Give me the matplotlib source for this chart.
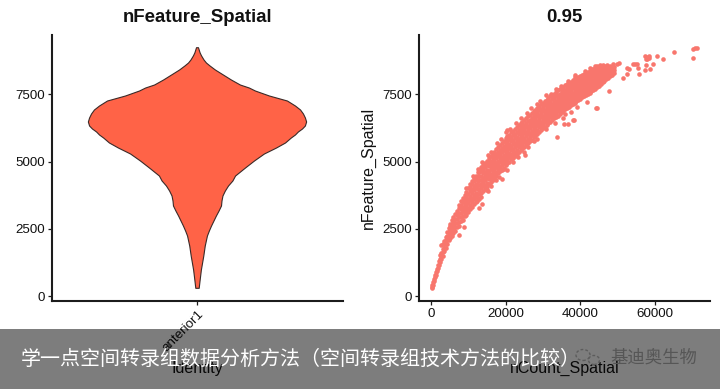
import matplotlib
matplotlib.use("Agg")
import matplotlib.pyplot as plt
from matplotlib.patches import Ellipse, Rectangle

W, H = 720, 389

plt.rcParams["font.family"] = ["Liberation Sans", "DejaVu Sans"]

# Violin outline: value and half width (x units)
violin_y = [9237, 9151, 9039, 8928, 8779, 8667, 8556, 8407, 8221, 8035, 7849, 7737, 7626, 7440,
            7254, 7068, 6919, 6770, 6622, 6473, 6324, 6212, 6101, 5990, 5878, 5692, 5506, 5283,
            5022, 4762, 4464, 4278, 4092, 3906, 3720, 3534, 3348, 3162, 2976, 2790, 2604, 2418,
            2232, 1860, 1488, 967, 595, 286]
violin_w = [0.004, 0.007, 0.011, 0.017, 0.027, 0.037, 0.052, 0.074, 0.107, 0.140, 0.177, 0.214,
            0.239, 0.297, 0.371, 0.404, 0.425, 0.437, 0.445, 0.450, 0.445, 0.433, 0.416, 0.404,
            0.387, 0.363, 0.326, 0.276, 0.235, 0.198, 0.157, 0.146, 0.128, 0.115, 0.105, 0.101,
            0.099, 0.089, 0.078, 0.068, 0.058, 0.049, 0.041, 0.032, 0.026, 0.016, 0.011, 0.007]

# Scatter: dense band read as columns of nCount with the nFeature values seen there
band_x = [350, 600, 850, 1100, 1350, 1600, 1900, 2200, 2500, 2800, 3200, 3600, 4000, 4400, 4800,
          5200, 5600, 6000, 6500, 7000, 7500, 8000, 8500, 9000, 9500, 10000, 10500, 11000, 11500,
          12000, 12500, 13000, 13500, 14000, 14500, 15000, 15500, 16000, 16500, 17000, 17500, 18000,
          18500, 19000, 19500, 20000, 20500, 21000, 21500, 22000, 22500, 23000, 23500, 24000, 24500,
          25000, 25500, 26000, 26500, 27000, 27500, 28000, 28500, 29000, 29500, 30000, 30500, 31000,
          31500, 32000, 32500, 33000, 33500, 34000, 34500, 35000, 35500, 36000, 36500, 37000, 37500,
          38000, 38500, 39000, 39500, 40000, 40500, 41000, 41500, 42000, 42500, 43000, 43500, 44000,
          44500, 45000, 45500, 46000, 46500, 47000, 47500, 48000, 48500, 49000]
band_y = [
    [290, 340, 410], [420, 520], [560, 640], [700, 790], [800, 900], [930, 1010], [1040, 1150],
    [1160, 1290], [1250, 1380, 1520], [1370, 1480, 1610, 1900], [1500, 1620, 1740, 1950],
    [1660, 1790, 1920, 2040], [1800, 1930, 2080, 2210], [1950, 2090, 2230, 2380],
    [2080, 2240, 2390, 2520], [2170, 2300, 2450, 2600, 2690], [2250, 2400, 2540, 2690, 2830],
    [2330, 2480, 2640, 2790, 2930], [2420, 2570, 2720, 2880, 3060], [2560, 2700, 2850, 3000, 3180],
    [2600, 2760, 2930, 3090, 3260, 3370], [2780, 2930, 3080, 3240, 3400, 3520],
    [2830, 2990, 3160, 3320, 3480, 3640], [2960, 3100, 3270, 3430, 3590, 3760],
    [3020, 3190, 3350, 3510, 3680, 3880], [3120, 3290, 3460, 3620, 3790, 4020],
    [3240, 3400, 3560, 3720, 3890, 4070, 4160], [3310, 3480, 3650, 3820, 3990, 4150, 4270],
    [3440, 3600, 3770, 3930, 4100, 4260, 4390], [3500, 3670, 3840, 4010, 4180, 4340, 4470],
    [3640, 3800, 3970, 4130, 4290, 4450, 4600], [3600, 3790, 3960, 4130, 4300, 4460, 4620, 4700],
    [3840, 4000, 4160, 4320, 4480, 4640, 4790], [3920, 4080, 4240, 4400, 4560, 4720, 4880],
    [3980, 4140, 4310, 4470, 4630, 4790, 4960], [4040, 4210, 4380, 4540, 4700, 4870, 5030],
    [4180, 4340, 4500, 4660, 4820, 4980, 5140], [4230, 4390, 4550, 4710, 4880, 5040, 5220],
    [4320, 4480, 4640, 4810, 4970, 5130, 5290], [4390, 4550, 4720, 4880, 5040, 5200, 5370],
    [4470, 4630, 4800, 4960, 5120, 5290, 5470], [4560, 4720, 4880, 5040, 5200, 5360, 5530],
    [4650, 4810, 4970, 5130, 5290, 5450, 5620], [4700, 4860, 5030, 5190, 5350, 5520, 5690],
    [4760, 4930, 5090, 5260, 5420, 5590, 5770], [4880, 5040, 5200, 5370, 5530, 5700, 5860, 6100],
    [4950, 5110, 5270, 5440, 5600, 5770, 5950], [5000, 5170, 5330, 5500, 5670, 5840, 6000],
    [5100, 5260, 5420, 5590, 5750, 5910, 6090], [5150, 5320, 5480, 5640, 5810, 5980, 6150],
    [5200, 5370, 5540, 5700, 5870, 6030, 6230], [5280, 5440, 5610, 5770, 5930, 6100, 6270],
    [5370, 5530, 5690, 5850, 6010, 6180, 6350], [5420, 5590, 5750, 5910, 6080, 6240, 6440],
    [5500, 5660, 5820, 5990, 6150, 6310, 6470], [5560, 5720, 5880, 6050, 6210, 6370, 6560],
    [5610, 5780, 5950, 6110, 6280, 6440, 6610], [5680, 5840, 6010, 6170, 6340, 6500, 6680],
    [5760, 5920, 6080, 6240, 6400, 6560, 6740], [5810, 5980, 6140, 6310, 6470, 6630, 6800],
    [5900, 6060, 6220, 6380, 6540, 6700, 6880], [5970, 6130, 6290, 6450, 6610, 6770, 6920],
    [6020, 6190, 6350, 6520, 6680, 6840, 7010], [6110, 6270, 6430, 6590, 6750, 6910, 7060],
    [6170, 6330, 6490, 6650, 6810, 6970, 7130], [6240, 6400, 6560, 6710, 6870, 7030, 7190],
    [6300, 6460, 6620, 6780, 6930, 7090, 7260], [6360, 6520, 6680, 6830, 6990, 7150, 7310],
    [6430, 6580, 6740, 6890, 7050, 7210, 7370], [6490, 6650, 6800, 6950, 7110, 7260, 7440],
    [6530, 6690, 6850, 7000, 7160, 7320, 7480], [6610, 6760, 6920, 7070, 7230, 7380, 7530],
    [6660, 6810, 6970, 7120, 7270, 7430, 7590], [6710, 6870, 7020, 7170, 7330, 7480, 7650],
    [6780, 6930, 7080, 7230, 7380, 7530, 7700], [6830, 6980, 7130, 7280, 7430, 7580, 7750],
    [6870, 7020, 7170, 7320, 7480, 7630, 7790], [6940, 7090, 7230, 7380, 7530, 7680, 7850],
    [6990, 7140, 7290, 7430, 7580, 7730, 7880], [7040, 7190, 7340, 7480, 7630, 7780, 7940],
    [7090, 7230, 7380, 7530, 7670, 7820, 7980], [7130, 7280, 7430, 7570, 7720, 7870, 8020],
    [7190, 7340, 7480, 7620, 7770, 7910, 8060], [7240, 7380, 7530, 7670, 7810, 7950, 8110],
    [7280, 7420, 7570, 7710, 7850, 8000, 8150], [7340, 7480, 7620, 7760, 7900, 8040, 8190],
    [7390, 7530, 7670, 7810, 7950, 8080, 8230], [7430, 7570, 7700, 7840, 7980, 8120, 8270],
    [7470, 7610, 7750, 7880, 8020, 8160, 8310], [7510, 7650, 7790, 7920, 8060, 8200, 8350],
    [7560, 7700, 7830, 7970, 8100, 8240, 8380], [7610, 7740, 7870, 8010, 8140, 8280, 8430],
    [7650, 7780, 7920, 8050, 8180, 8320, 8460], [7700, 7830, 7960, 8090, 8220, 8350, 8500],
    [7760, 7890, 8020, 8150, 8280, 8400, 8540], [7820, 7950, 8080, 8210, 8340, 8470],
    [7880, 8010, 8140, 8270, 8400, 8530], [7950, 8080, 8200, 8330, 8460, 8590],
    [8000, 8130, 8260, 8390, 8520], [8060, 8190, 8310, 8440, 8560],
    [8120, 8240, 8370, 8490], [8180, 8300, 8420, 8550], [8240, 8350, 8470], [8290, 8400, 8520],
]

# Stray points off the band
stray_x = [71200, 70750, 70130, 70130, 65050, 62090, 60480, 58500, 57970, 57350, 58100, 57600, 58500,
           59580, 57700, 58600, 57430, 55740, 55480, 55130, 54050, 54600, 52600, 53200, 52600,
           51540, 50460, 49930, 47800, 44220, 38140, 37440, 45910, 44400, 38590, 33770, 35640,
           36720, 38240, 44400, 35460, 28320, 26080, 25100, 23400, 19560, 18950, 12780, 8840,
           7590, 15400, 13600, 24300, 21800]
stray_y = [9237, 9215, 9200, 8865, 9065, 8828, 8928, 8940, 8816, 8940, 8880, 8830, 8870,
           8630, 8582, 8456, 8419, 8258, 8470, 8619, 8619, 8640, 8493, 8440, 8247,
           8121, 8668, 8619, 7637, 6994, 6558, 6856, 8567, 8433, 8158, 5915, 6387,
           6387, 6558, 6983, 6610, 5840, 5530, 5245, 5182, 4713, 4341, 3262, 2555,
           2269, 3900, 3420, 5500, 5250]

# Bumps along the upper and lower edges of the band
edge_x = [9500, 11200, 12700, 13800, 15200, 16100, 17800, 18900, 20300, 21300, 22800, 24200, 25800,
          26800, 28400, 29200, 30700, 32300, 33400, 34900, 36600, 38500, 39100, 41200, 42600, 43900,
          45300, 47200, 48800, 12200, 13400, 14900, 16200, 17300, 18300, 20400, 22100, 24900, 27600,
          30800, 33200, 35900, 39200, 41700]
edge_y = [4000, 4480, 4720, 4990, 5230, 5340, 5700, 5830, 6180, 6230, 6440, 6620, 6810,
          7000, 7130, 7250, 7460, 7530, 7700, 7830, 8000, 8210, 8120, 8380, 8470, 8560,
          8600, 8600, 8620, 3520, 3700, 3950, 4080, 4300, 4420, 4700, 4980, 5350, 5750,
          6200, 6450, 6780, 7050, 7230]

x_ticks = [0, 20000, 40000, 60000]
y_ticks = [0, 2500, 5000, 7500]
category = "anterior1"
banner_title = "学一点空间转录组数据分析方法（空间转录组技术方法的比较）"
watermark = "基迪奥生物"


def px_axes(fig, left, top, right, bottom):
    return fig.add_axes([left / W, 1 - bottom / H, (right - left) / W, (bottom - top) / H])


def style_axes(ax):
    for side in ("top", "right"):
        ax.spines[side].set_visible(False)
    for side in ("left", "bottom"):
        ax.spines[side].set_linewidth(1.5)
        ax.spines[side].set_color("#1c1c1c")
    ax.tick_params(length=2.7, width=0.9, pad=2.5, labelsize=9.6, color="#1c1c1c", labelcolor="#111111")
    ax.set_yticks(y_ticks)
    ax.set_ylim(-167, 9710)


fig = plt.figure(figsize=(W / 100, H / 100), dpi=100, facecolor="white")

# ── Violin ────────────────────────────────────────────
ax = px_axes(fig, 52, 35, 343, 300.5)
style_axes(ax)
left_x = [1 - w for w in violin_w]
right_x = [1 + w for w in violin_w]
ax.fill(left_x + right_x[::-1], violin_y + violin_y[::-1], facecolor="#FF6347",
        edgecolor="#3a2a28", linewidth=0.8, joinstyle="round")
ax.set_xlim(0.4, 1.6)
ax.set_xticks([1])
ax.set_xticklabels([category], rotation=45, ha="right", rotation_mode="anchor")
fig.text(197.5 / W, 1 - 17 / H, "nFeature_Spatial", ha="center", va="center",
         fontsize=13.4, fontweight="bold", color="#111111")
fig.text(197.5 / W, 1 - 368 / H, "Identity", ha="center", va="center",
         fontsize=11.5, color="#111111")

# ── Scatter ───────────────────────────────────────────
ax = px_axes(fig, 419, 35, 710, 300.5)
style_axes(ax)
xs, ys = [], []
for cx, col in zip(band_x, band_y):
    for v in col:
        xs.append(cx)
        ys.append(v)
ax.scatter(xs + stray_x + edge_x, ys + stray_y + edge_y, s=11, color="#F8766D", linewidths=0)
ax.set_xlim(-3217, 74800)
ax.set_xticks(x_ticks)
fig.text(564 / W, 1 - 17 / H, "0.95", ha="center", va="center",
         fontsize=13.4, fontweight="bold", color="#111111")
ax.set_ylabel("nFeature_Spatial", fontsize=11.5, color="#111111", labelpad=4.5)
fig.text(564.5 / W, 1 - 368 / H, "nCount_Spatial", ha="center", va="center",
         fontsize=11.5, color="#111111")

# ── Grey caption banner over the bottom of the picture ─
fig.add_artist(Rectangle((0, 0), 1, 60 / H, transform=fig.transFigure, facecolor="black",
                         alpha=0.51, edgecolor="none", zorder=5))
fig.text(21 / W, 1 - 359 / H, banner_title, family=["Noto Sans CJK SC", "DejaVu Sans"],
         fontsize=14.4, color="white", ha="left", va="center", zorder=6)
fig.text(610 / W, 1 - 358 / H, watermark, family=["Noto Sans CJK SC", "DejaVu Sans"],
         fontsize=12.5, color="#565656", ha="left", va="center", zorder=6)
for cx, cy, rx, ry in [(583, 355, 14, 11), (594, 360, 11, 9)]:
    fig.add_artist(Ellipse((cx / W, 1 - cy / H), rx / W, ry / H, transform=fig.transFigure,
                           facecolor="none", edgecolor="#5c5c5c", linewidth=1.0,
                           linestyle=(0, (2, 1.5)), zorder=6))

fig.savefig("out.png", dpi=100)
plt.close(fig)
